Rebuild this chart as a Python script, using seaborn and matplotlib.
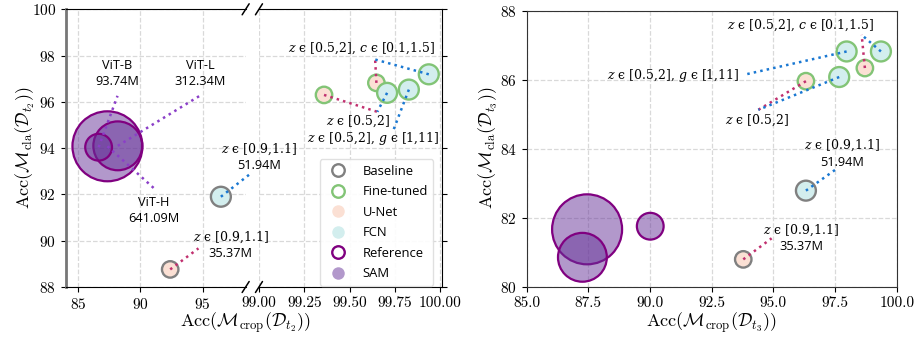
import matplotlib
matplotlib.use("Agg")
import matplotlib.pyplot as plt
import seaborn as sns
from matplotlib.lines import Line2D
from matplotlib.ticker import FormatStrFormatter

# ── Data ──────────────────────────────────────────────────────────────────────
SAM_NAMES = ["ViT-B", "ViT-L", "ViT-H"]
SAM_PARAMS = [93.74, 312.34, 641.09]
MODEL_PARAMS = {"U-Net": 35.37, "FCN": 51.94}

BASE_MODELS = ["U-Net", "FCN"]
FT_MODELS = ["U-Net", "U-Net", "FCN", "FCN", "FCN"]
FT_AUGS = ["z", "c", "z", "g", "c"]

# D_t2
T2_SAM_CROP = [86.64, 88.18, 87.35]
T2_SAM_CLA = [94.04, 94.10, 94.08]
T2_BASE_CROP = [92.39, 96.46]
T2_BASE_CLA = [88.76, 91.90]
T2_FT_CROP = [99.359, 99.648, 99.707, 99.827, 99.937]
T2_FT_CLA = [96.30, 96.82, 96.39, 96.53, 97.19]

# D_t3
T3_SAM_CROP = [90.01, 87.26, 87.45]
T3_SAM_CLA = [81.76, 80.86, 81.67]
T3_BASE_CROP = [93.78, 96.32]
T3_BASE_CLA = [80.80, 82.79]
T3_FT_CROP = [96.32, 98.71, 97.67, 97.97, 99.36]
T3_FT_CLA = [85.96, 86.34, 86.08, 86.82, 86.82]

AUG_TEXT = {
    "z": "$z$ ϵ [0.5,2]",
    "c": "$z$ ϵ [0.5,2], $c$ ϵ [0.1,1.5]",
    "g": "$z$ ϵ [0.5,2], $g$ ϵ [1,11]",
}
BASE_TEXT = "$z$ ϵ [0.9,1.1]"

# ── Annotation layout (line end / label centre, data coords) ──────────────────
T2_FT_NOTES = {"z": ((99.653, 95.57), (99.545, 95.18)),
               "c": ((99.641, 97.83), (99.566, 98.33)),
               "g": ((99.738, 94.70), (99.630, 94.42))}
T3_FT_NOTES = {"z": ((94.39, 85.13), (94.32, 84.84)),
               "c": ((98.58, 87.30), (96.09, 87.57)),
               "g": ((93.78, 86.14), (90.94, 86.12))}
T2_BASE_NOTES = [((94.66, 89.67), (97.26, 89.80)), ((98.87, 92.91), (99.51, 93.59))]
T3_BASE_NOTES = [((94.93, 81.41), (96.13, 81.41)), ((97.54, 83.41), (97.77, 83.85))]
T2_SAM_NOTES = [((88.16, 96.26), (88.11, 97.24)),
                ((94.94, 96.32), (94.80, 97.24)),
                ((91.18, 92.22), (91.10, 91.29))]

# ── Style ─────────────────────────────────────────────────────────────────────
SIZE_K = 3.96          # marker area (pt^2) per million parameters
UNET_FACE = "#fbe0d4"
FCN_FACE = "#d3eeee"
BASE_EDGE = "#808080"
FT_EDGE = "#82c476"
REF_EDGE = "#800080"
SAM_FACE = (0.4, 0.2, 0.6, 0.5)
LINE_COLOR = {"U-Net": "#c1306f", "FCN": "#1a78d2"}
SAM_LINE = "#8b3fc8"
MODEL_FACE = {"U-Net": UNET_FACE, "FCN": FCN_FACE}
SANS = "Open Sans"

sns.set_style("ticks", {"axes.grid": True, "grid.linestyle": "--", "grid.color": "#d9d9d9"})
plt.rcParams.update({
    "font.family": "serif",
    "font.serif": ["cmr10"],
    "mathtext.fontset": "cm",
    "axes.formatter.use_mathtext": True,
    "axes.unicode_minus": False,
    "text.color": "black",
    "xtick.color": "black",
    "ytick.color": "black",
    "xtick.major.size": 3.5,
    "ytick.major.size": 3.5,
    "grid.linewidth": 0.9,
})


# ── Helpers ───────────────────────────────────────────────────────────────────

def draw_sam(ax, crop, cla):
    order = sorted(range(len(SAM_PARAMS)), key=lambda i: -SAM_PARAMS[i])
    sns.scatterplot(x=[crop[i] for i in order], y=[cla[i] for i in order],
                    s=[SIZE_K * SAM_PARAMS[i] for i in order],
                    color=SAM_FACE, edgecolor=REF_EDGE, linewidth=1.6,
                    legend=False, ax=ax, zorder=2)


def draw_models(ax, crop, cla, models, edge):
    sns.scatterplot(x=crop, y=cla, hue=models, palette=MODEL_FACE,
                    s=[SIZE_K * MODEL_PARAMS[m] for m in models],
                    edgecolor=edge, linewidth=1.7, legend=False, ax=ax, zorder=2)


def dotted(ax, p0, p1, color):
    ax.plot([p0[0], p1[0]], [p0[1], p1[1]], ls=":", lw=1.8, color=color,
            clip_on=False, zorder=4)


def math_label(ax, xy, text, dy=0):
    ax.annotate(text, xy=xy, xytext=(0, dy), textcoords="offset points",
                ha="center", va="center", fontsize=9,
                family=["DejaVu Serif", "DejaVu Sans"],
                math_fontfamily="dejavuserif", annotation_clip=False, zorder=5)


def base_notes(ax, crop, cla, notes):
    for m, x, y, (end, txt) in zip(BASE_MODELS, crop, cla, notes):
        dotted(ax, (x, y), end, LINE_COLOR[m])
        math_label(ax, txt, BASE_TEXT, dy=6)
        ax.annotate(f"{MODEL_PARAMS[m]:.2f}M", xy=txt, xytext=(0, -6),
                    textcoords="offset points", ha="center", va="center",
                    fontsize=9.2, family=SANS, annotation_clip=False, zorder=5)


def ft_notes(ax, crop, cla, notes):
    for m, aug, x, y in zip(FT_MODELS, FT_AUGS, crop, cla):
        dotted(ax, (x, y), notes[aug][0], LINE_COLOR[m])
    for aug, (_, txt) in notes.items():
        math_label(ax, txt, AUG_TEXT[aug])


def break_marks(ax, side, w_px, h_px):
    dx, dy = 3.5 / w_px, 5.5 / h_px
    x = 1 if side == "right" else 0
    for y in (0, 1):
        ax.plot([x - dx, x + dx], [y - dy, y + dy], transform=ax.transAxes,
                color="k", lw=1.1, clip_on=False, zorder=6)


# ── Figure ────────────────────────────────────────────────────────────────────
fig = plt.figure(figsize=(9.18, 3.39), dpi=100)
ax_l = fig.add_axes([0.0716, 0.1534, 0.1960, 0.8192])
ax_r = fig.add_axes([0.2821, 0.1534, 0.1994, 0.8192])
ax_3 = fig.add_axes([0.5737, 0.1534, 0.4031, 0.8150])
ax_l.set_zorder(3)

# Left panel, left part (SAM + baselines)
draw_sam(ax_l, T2_SAM_CROP, T2_SAM_CLA)
draw_models(ax_l, T2_BASE_CROP, T2_BASE_CLA, BASE_MODELS, BASE_EDGE)
for (x, y), (end, txt), name, p in zip(zip(T2_SAM_CROP, T2_SAM_CLA), T2_SAM_NOTES,
                                       SAM_NAMES, SAM_PARAMS):
    dotted(ax_l, (x, y), end, SAM_LINE)
    ax_l.text(txt[0], txt[1], f"{name}\n{p:.2f}M", ha="center", va="center",
              fontsize=9.2, family=SANS, linespacing=1.3, zorder=5)
base_notes(ax_l, T2_BASE_CROP, T2_BASE_CLA, T2_BASE_NOTES)

ax_l.set_xlim(84.0, 98.45)
ax_l.set_xticks([85, 90, 95])
ax_l.spines["right"].set_visible(False)
ax_l.spines["left"].set_color("#777777")
ax_l.spines["left"].set_linewidth(2.0)

# Left panel, right part (fine-tuned)
draw_models(ax_r, T2_FT_CROP, T2_FT_CLA, FT_MODELS, FT_EDGE)
ft_notes(ax_r, T2_FT_CROP, T2_FT_CLA, T2_FT_NOTES)
ax_r.set_xlim(99.0, 100.01)
ax_r.set_xticks([99.0, 99.25, 99.5, 99.75, 100.0])
ax_r.xaxis.set_major_formatter(FormatStrFormatter("%.2f"))
ax_r.spines["left"].set_visible(False)
ax_r.yaxis.tick_right()
ax_r.tick_params(labelright=False)

for ax in (ax_l, ax_r):
    ax.set_ylim(88, 100)
    ax.set_yticks(range(88, 101, 2))
    ax.tick_params(labelsize=11, width=0.8)
    for s in ("top", "bottom"):
        ax.spines[s].set_color("black")
ax_r.spines["right"].set_color("black")
break_marks(ax_l, "right", 180, 278)
break_marks(ax_r, "left", 183, 278)

legend_items = [
    Line2D([], [], ls="", marker="o", ms=9, mfc="white", mec=BASE_EDGE, mew=1.7, label="Baseline"),
    Line2D([], [], ls="", marker="o", ms=9, mfc="white", mec=FT_EDGE, mew=1.7, label="Fine-tuned"),
    Line2D([], [], ls="", marker="o", ms=9, mfc=UNET_FACE, mec="none", label="U-Net"),
    Line2D([], [], ls="", marker="o", ms=9, mfc=FCN_FACE, mec="none", label="FCN"),
    Line2D([], [], ls="", marker="o", ms=9, mfc="white", mec=REF_EDGE, mew=1.7, label="Reference"),
    Line2D([], [], ls="", marker="o", ms=9, mfc=SAM_FACE, mec="none", label="SAM"),
]
ax_r.legend(handles=legend_items, loc="lower right", bbox_to_anchor=(0.952, 0.005),
            borderaxespad=0, prop={"family": SANS, "size": 9.4}, labelspacing=0.58,
            handletextpad=0.9, edgecolor="#dddddd", framealpha=0.9)

fig.text(246 / 918, 1 - 323 / 339,
         r"$\mathrm{Acc}(\mathcal{M}_{\mathrm{crop}}(\mathcal{D}_{t_2}))$",
         ha="center", va="center", fontsize=13)
fig.text(25 / 918, 1 - 148 / 339,
         r"$\mathrm{Acc}(\mathcal{M}_{\mathrm{cla}}(\mathcal{D}_{t_2}))$",
         ha="center", va="center", rotation=90, fontsize=13)

# Right panel (D_t3)
draw_sam(ax_3, T3_SAM_CROP, T3_SAM_CLA)
draw_models(ax_3, T3_BASE_CROP, T3_BASE_CLA, BASE_MODELS, BASE_EDGE)
draw_models(ax_3, T3_FT_CROP, T3_FT_CLA, FT_MODELS, FT_EDGE)
base_notes(ax_3, T3_BASE_CROP, T3_BASE_CLA, T3_BASE_NOTES)
ft_notes(ax_3, T3_FT_CROP, T3_FT_CLA, T3_FT_NOTES)
ax_3.set_xlim(85, 100)
ax_3.set_ylim(80, 88)
ax_3.set_xticks([85, 87.5, 90, 92.5, 95, 97.5, 100])
ax_3.xaxis.set_major_formatter(FormatStrFormatter("%.1f"))
ax_3.set_yticks(range(80, 89, 2))
ax_3.tick_params(labelsize=11, width=0.8)
for s in ax_3.spines.values():
    s.set_color("#333333")

fig.text(711.5 / 918, 1 - 323 / 339,
         r"$\mathrm{Acc}(\mathcal{M}_{\mathrm{crop}}(\mathcal{D}_{t_3}))$",
         ha="center", va="center", fontsize=13)
fig.text(488 / 918, 1 - 148 / 339,
         r"$\mathrm{Acc}(\mathcal{M}_{\mathrm{cla}}(\mathcal{D}_{t_3}))$",
         ha="center", va="center", rotation=90, fontsize=13)

fig.savefig("out.png", dpi=100)
plt.close(fig)
